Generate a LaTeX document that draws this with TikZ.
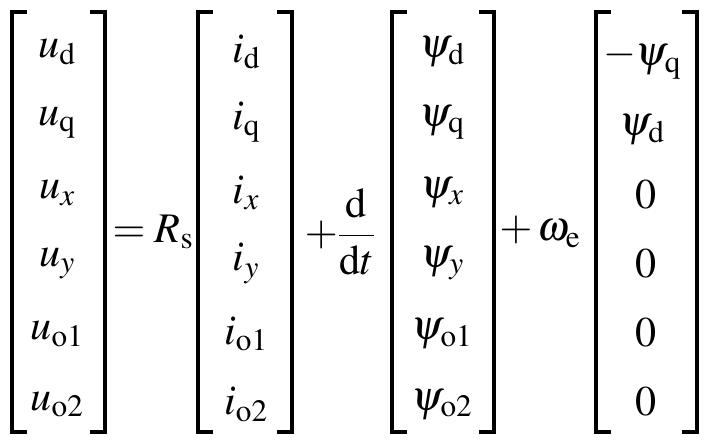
\documentclass[tikz,border=0pt]{standalone}
\usepackage{mathptmx}
\usepackage{tikz}
\tikzset{
	entry/.style={inner sep=0pt, font=\fontsize{36}{40}\selectfont},
	brk/.style={line width=2.6pt}
}
\newcommand{\vecbrk}[2]{%
	\draw[brk] (#1+15,12) -- (#1,12) -- (#1,432) -- (#1+15,432);
	\draw[brk] (#2-15,12) -- (#2,12) -- (#2,432) -- (#2-15,432);}
\begin{document}
\begin{tikzpicture}[x=0.03cm, y=-0.03cm]
			\useasboundingbox (0,0) rectangle (724,444);
			% voltages, currents, fluxes
			\foreach \s [count=\r] in {\mathrm{d},\mathrm{q},x,y,\mathrm{o1},\mathrm{o2}}{
				\pgfmathsetmacro{\yy}{52+70.5*(\r-1)}
				\node[entry] (u\r) at (57,\yy) {$u_{\s}$};
				\node[entry] (i\r) at (246,\yy) {$i_{\s}$};
				\node[entry] (p\r) at (442,\yy) {$\psi_{\s}$};
			}
			\node[entry] (w1) at (642,60) {$-\psi_{\mathrm{q}}$};
			\node[entry] (w2) at (642,130) {$\psi_{\mathrm{d}}$};
			\foreach \r in {3,...,6}{
				\pgfmathsetmacro{\yy}{195+69*(\r-3)}
				\node[entry] (w\r) at (646,\yy) {$0$};
			}
			\node[entry] (rs) at (153,232) {$= R_{\mathrm{s}}$};
			\node[entry] (ddt) at (340,232) {$+\displaystyle\frac{\mathrm{d}}{\mathrm{d}t}$};
			\node[entry] (we) at (540,232) {$+\,\omega_{\mathrm{e}}$};
			\vecbrk{12}{105}
			\vecbrk{198}{292}
			\vecbrk{392}{494}
			\vecbrk{596}{697}
		\end{tikzpicture}
\end{document}
